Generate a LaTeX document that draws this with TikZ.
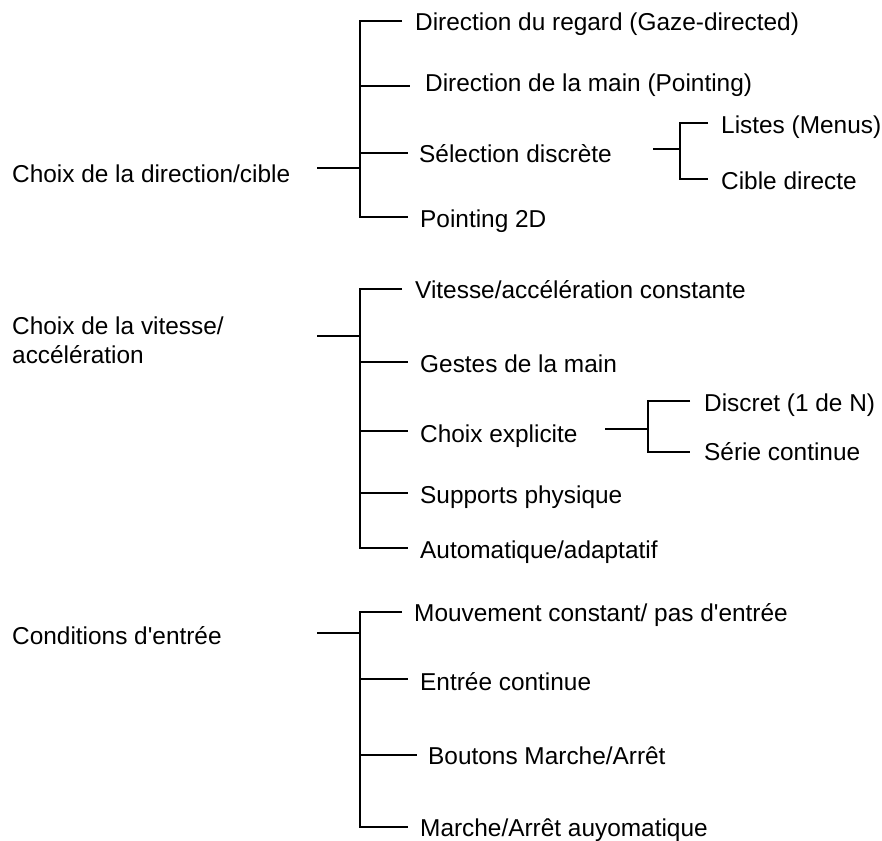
\documentclass[tikz,border=0pt]{standalone}
\usepackage{fontspec}
\setmainfont{Liberation Sans}[Ligatures=TeXOff]
\begin{document}
\begin{tikzpicture}[x=1pt,y=-1pt,
  lbl/.style={anchor=base west, inner sep=0pt, font=\fontsize{24.4}{29}\selectfont},
  ln/.style={line width=1.6pt}]
\useasboundingbox (0,0) rectangle (882,840);

% ---------- Group 1 ----------
\node[lbl] (g1)  at (12,182)  {Choix de la direction/cible};
\node[lbl] (a1)  at (415,31)  {Direction du regard (Gaze-directed)};
\node[lbl] (a2)  at (425,92)  {Direction de la main (Pointing)};
\node[lbl] (a3)  at (419,162) {Sélection discrète};
\node[lbl] (a4)  at (420,227) {Pointing 2D};
\node[lbl] (a31) at (721,133) {Listes (Menus)};
\node[lbl] (a32) at (721,189) {Cible directe};

\coordinate (g1s) at (317,168); \coordinate (g1j) at (360,168);
\coordinate (a1v) at (360,21);  \coordinate (a1e) at (402,21);
\coordinate (a2v) at (360,86);  \coordinate (a2e) at (410,86);
\coordinate (a3v) at (360,153); \coordinate (a3e) at (408,153);
\coordinate (a4v) at (360,217); \coordinate (a4e) at (408,217);
\draw[ln] (g1s) -- (g1j);
\draw[ln] (a1e) -- (a1v) -- (a4v) -- (a4e);
\draw[ln] (a2v) -- (a2e);
\draw[ln] (a3v) -- (a3e);

\coordinate (a3s) at (653,149); \coordinate (a3j) at (680,149);
\coordinate (a31v) at (680,123); \coordinate (a31e) at (708,123);
\coordinate (a32v) at (680,179); \coordinate (a32e) at (708,179);
\draw[ln] (a3s) -- (a3j);
\draw[ln] (a31e) -- (a31v) -- (a32v) -- (a32e);

% ---------- Group 2 ----------
\node[lbl] (g2)  at (12,334) {Choix de la vitesse/};
\node[lbl] (g2b) at (12,363) {accélération};
\node[lbl] (b1)  at (415,298) {Vitesse/accélération constante};
\node[lbl] (b2)  at (420,372) {Gestes de la main};
\node[lbl] (b3)  at (420,442) {Choix explicite};
\node[lbl] (b4)  at (420,503) {Supports physique};
\node[lbl] (b5)  at (420,558) {Automatique/adaptatif};
\node[lbl] (b31) at (704,411) {Discret (1 de N)};
\node[lbl] (b32) at (704,460) {Série continue};

\coordinate (g2s) at (317,336); \coordinate (g2j) at (360,336);
\coordinate (b1v) at (360,289); \coordinate (b1e) at (402,289);
\coordinate (b2v) at (360,362); \coordinate (b2e) at (408,362);
\coordinate (b3v) at (360,431); \coordinate (b3e) at (408,431);
\coordinate (b4v) at (360,493); \coordinate (b4e) at (408,493);
\coordinate (b5v) at (360,548); \coordinate (b5e) at (408,548);
\draw[ln] (g2s) -- (g2j);
\draw[ln] (b1e) -- (b1v) -- (b5v) -- (b5e);
\draw[ln] (b2v) -- (b2e);
\draw[ln] (b3v) -- (b3e);
\draw[ln] (b4v) -- (b4e);

\coordinate (b3s) at (605,429); \coordinate (b3j) at (648,429);
\coordinate (b31v) at (648,401); \coordinate (b31e) at (690,401);
\coordinate (b32v) at (648,452); \coordinate (b32e) at (690,452);
\draw[ln] (b3s) -- (b3j);
\draw[ln] (b31e) -- (b31v) -- (b32v) -- (b32e);

% ---------- Group 3 ----------
\node[lbl] (g3) at (12,644)  {Conditions d'entrée};
\node[lbl] (c1) at (414,621) {Mouvement constant/ pas d'entrée};
\node[lbl] (c2) at (420,690) {Entrée continue};
\node[lbl] (c3) at (428,764) {Boutons Marche/Arrêt};
\node[lbl] (c4) at (420,836) {Marche/Arrêt auyomatique};

\coordinate (g3s) at (317,633); \coordinate (g3j) at (360,633);
\coordinate (c1v) at (360,612); \coordinate (c1e) at (402,612);
\coordinate (c2v) at (360,679); \coordinate (c2e) at (408,679);
\coordinate (c3v) at (360,755); \coordinate (c3e) at (417,755);
\coordinate (c4v) at (360,827); \coordinate (c4e) at (408,827);
\draw[ln] (g3s) -- (g3j);
\draw[ln] (c1e) -- (c1v) -- (c4v) -- (c4e);
\draw[ln] (c2v) -- (c2e);
\draw[ln] (c3v) -- (c3e);
\end{tikzpicture}
\end{document}
